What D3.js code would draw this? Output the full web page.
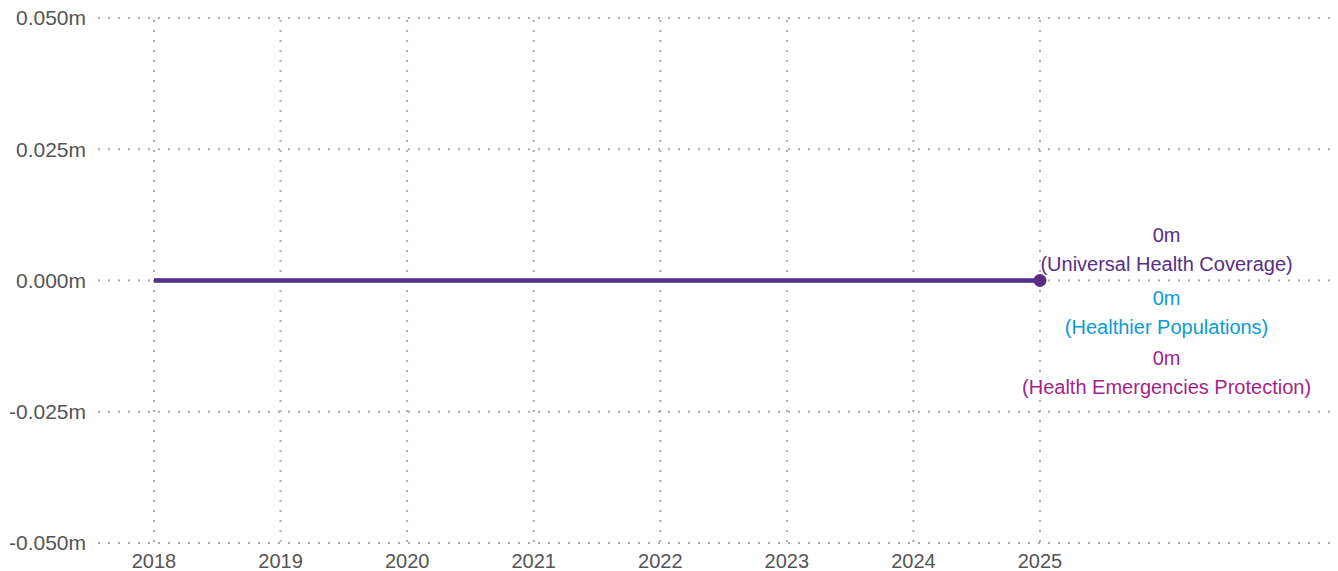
<!DOCTYPE html>
<html>
<head>
<meta charset="utf-8">
<script src="https://cdn.jsdelivr.net/npm/d3@7"></script>
<style>
  html, body { margin: 0; padding: 0; background: #fff; }
  svg { display: block; font-family: "Liberation Sans", Arial, sans-serif; }
</style>
</head>
<body>
<svg id="chart" width="1338" height="571"></svg>
<script>
// Annual values (millions) per strategic priority
const years = [2018, 2019, 2020, 2021, 2022, 2023, 2024, 2025];
const healthEmergencies = [0, 0, 0, 0, 0, 0, 0, 0];
const healthierPopulations = [0, 0, 0, 0, 0, 0, 0, 0];
const universalHealthCoverage = [0, 0, 0, 0, 0, 0, 0, 0];
const yTicks = [-0.05, -0.025, 0, 0.025, 0.05];

const series = [
  { name: "Health Emergencies Protection", values: healthEmergencies, color: "#a51f8b" },
  { name: "Healthier Populations", values: healthierPopulations, color: "#0b9bd7" },
  { name: "Universal Health Coverage", values: universalHealthCoverage, color: "#5a2d87" }
];

const svg = d3.select("#chart");
const W = 1338;
const plotLeft = 98, plotRight = W;

const x = d3.scaleLinear().domain([2018, 2025]).range([154, 1040]);
const y = d3.scaleLinear().domain([-0.05, 0.05]).range([543, 18]);

// Plain hyphen for negatives
const locale = d3.formatLocale({ decimal: ".", thousands: ",", grouping: [3], currency: ["", ""], minus: "-" });
const fmt = v => locale.format(".3f")(v) + "m";

// Horizontal gridlines with value labels
const yAxis = svg.append("g");
yAxis.selectAll("line").data(yTicks).join("line")
  .attr("x1", plotLeft).attr("x2", plotRight)
  .attr("y1", d => y(d)).attr("y2", d => y(d))
  .attr("stroke", "#aaa").attr("stroke-width", 2)
  .attr("stroke-dasharray", "2,8");
yAxis.selectAll("text").data(yTicks).join("text")
  .attr("x", 86).attr("y", d => y(d)).attr("dy", "0.35em")
  .attr("text-anchor", "end").attr("font-size", 21).attr("fill", "#555")
  .text(fmt);

// Vertical gridlines with year labels
const xAxis = svg.append("g");
xAxis.selectAll("line").data(years).join("line")
  .attr("x1", d => x(d)).attr("x2", d => x(d))
  .attr("y1", 20).attr("y2", 545)
  .attr("stroke", "#aaa").attr("stroke-width", 2)
  .attr("stroke-dasharray", "2,8");
xAxis.selectAll("text").data(years).join("text")
  .attr("x", d => x(d)).attr("y", 561).attr("dy", "0.35em")
  .attr("text-anchor", "middle").attr("font-size", 20).attr("fill", "#555")
  .text(d => d);

// Series lines
const line = d3.line().x((d, i) => x(years[i])).y(d => y(d));
svg.append("g").selectAll("path").data(series).join("path")
  .attr("d", s => line(s.values))
  .attr("fill", "none").attr("stroke", s => s.color).attr("stroke-width", 4);

// Final-point marker
const topSeries = series[series.length - 1];
const lastIdx = years.length - 1;
svg.append("circle")
  .attr("cx", x(years[lastIdx])).attr("cy", y(topSeries.values[lastIdx]))
  .attr("r", 6.5).attr("fill", topSeries.color);

// End labels, stacked from top to bottom
const labelOrder = [series[2], series[1], series[0]];
const labelX = x(years[lastIdx] + 1);
const labelTops = [235, 298, 358];
const lbl = svg.append("g").attr("font-size", 20).attr("text-anchor", "middle");
labelOrder.forEach((s, i) => {
  lbl.append("text").attr("x", labelX).attr("y", labelTops[i]).attr("dy", "0.35em")
    .attr("fill", s.color).text(d3.format("d")(s.values[lastIdx]) + "m");
  lbl.append("text").attr("x", labelX).attr("y", labelTops[i] + 29).attr("dy", "0.35em")
    .attr("fill", s.color).text("(" + s.name + ")");
});
</script>
</body>
</html>
